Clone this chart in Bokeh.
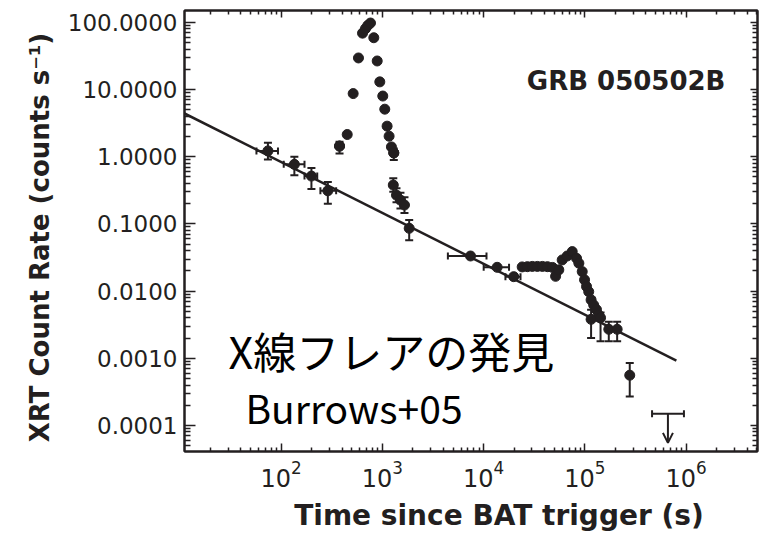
import numpy as np
from bokeh.plotting import figure
from bokeh.models import (LogAxis, FixedTicker, Label, Whisker, ColumnDataSource,
                          Range1d, Arrow, OpenHead, TeeHead, LogTickFormatter)
from bokeh.embed import file_html
from bokeh.resources import INLINE

INK = "#231f20"

# ---------------- data ----------------
# early decay (x and y errors)
early_t = [74, 135, 199, 289]
early_r = [1.22, 0.77, 0.515, 0.311]
early_t_lo = [57, 106, 170, 244]
early_t_hi = [93, 170, 227, 349]
early_r_lo = [0.91, 0.53, 0.33, 0.20]
early_r_hi = [1.61, 1.00, 0.68, 0.42]

# giant flare
flare_t = [377, 449, 514, 580, 636, 680, 718, 762, 822, 888, 942, 1008,
           1055, 1112, 1164, 1227, 1295]
flare_r = [1.44, 2.14, 8.7, 29.5, 69, 80.5, 90, 97.7, 59, 26.6, 13.0, 8.0,
           5.1, 2.85, 2.02, 1.40, 1.14]

# end of flare (y errors)
tail_t = [377, 1295, 1280, 1377, 1507, 1651, 1838]
tail_r = [1.44, 1.14, 0.379, 0.268, 0.226, 0.191, 0.086]
tail_r_lo = [1.12, 0.89, 0.30, 0.21, 0.17, 0.145, 0.057]
tail_r_hi = [1.67, 1.33, 0.48, 0.34, 0.29, 0.25, 0.114]

# later data with time bins
late_t = [7413, 13580, 19800]
late_r = [0.0333, 0.0226, 0.0164]
late_t_lo = [4430, 10000, 16400]
late_t_hi = [10660, 17800, 23100]

# second flare
flare2_t = [24000, 27000, 30200, 33900, 38000, 42600, 47800, 51300, 55200,
            59600, 66800, 74900, 82600, 87100, 94000, 99100, 103700, 109000,
            115000, 122000, 130000, 137000]
flare2_r = [0.0229, 0.0231, 0.0233, 0.0233, 0.0233, 0.0231, 0.0225, 0.0166,
            0.0207, 0.0291, 0.0333, 0.0387, 0.0308, 0.0260, 0.0195, 0.0147,
            0.0117, 0.0098, 0.0074, 0.0062, 0.0053, 0.0044]

# faint late points (y errors)
faint_t = [115000, 142600, 172000, 208000, 277000]
faint_r = [0.0038, 0.0040, 0.0027, 0.0027, 0.00056]
faint_r_lo = [0.0020, 0.0018, 0.0018, 0.0018, 0.00027]
faint_r_hi = [0.0053, 0.0048, 0.0035, 0.0035, 0.00085]

# upper limit
ul_t = [660000]
ul_r = [1.5e-4]
ul_t_lo = [460000]
ul_t_hi = [950000]
ul_arrow_to = [5.5e-5]

# underlying power-law decay
pl_t = [11.1, 8.0e5]
pl_r = [4.40, 9.2e-4]

# axes
x_ticks = [1e2, 1e3, 1e4, 1e5, 1e6]      # labelled 10^2 ... 10^6
y_ticks = [1e-4, 1e-3, 1e-2, 1e-1, 1e0, 1e1, 1e2]
y_tick_labels = ["0.0001", "0.0010", "0.0100", "0.1000", "1.0000", "10.0000", "100.0000"]
x_range = (11.1, 5.06e6)
y_range = (4.1e-5, 150)

# ---------------- figure ----------------
W, H = 762, 534
BL, BR, BT, BB = 184, 5, 10, 82
p = figure(width=W, height=H, x_axis_type="log", y_axis_type="log",
           x_range=Range1d(*x_range), y_range=Range1d(*y_range),
           output_backend="svg", toolbar_location=None,
           min_border_left=BL, min_border_right=BR, min_border_top=BT,
           min_border_bottom=BB)
p.grid.visible = False
p.outline_line_color = INK
p.outline_line_width = 2
p.background_fill_color = "white"
p.border_fill_color = "white"

x_minor = [k * 10.0 ** n for n in range(1, 7) for k in range(2, 10)]
y_minor = [k * 10.0 ** n for n in range(-5, 3) for k in range(2, 10)]

def style(ax, maj, mnr):
    ax.axis_line_color = INK
    ax.axis_line_width = 2
    ax.major_tick_line_color = INK
    ax.minor_tick_line_color = INK
    ax.major_tick_line_width = 1.5
    ax.minor_tick_line_width = 1.5
    ax.major_tick_in = maj
    ax.major_tick_out = 0
    ax.minor_tick_in = mnr
    ax.minor_tick_out = 0

LATIN = "DejaVu Sans"

xa = p.xaxis[0]
xa.ticker = FixedTicker(ticks=x_ticks, minor_ticks=x_minor)
xa.formatter = LogTickFormatter()
style(xa, 8, 4)
xa.major_label_text_font = LATIN
xa.major_label_text_font_size = "24px"
xa.major_label_text_color = INK
xa.major_label_standoff = 8
xa.axis_label = "\u2003\u2003Time since BAT trigger (s)"
xa.axis_label_text_font = LATIN
xa.axis_label_text_font_size = "28px"
xa.axis_label_text_font_style = "bold"
xa.axis_label_text_color = INK
xa.axis_label_standoff = 9

ya = p.yaxis[0]
ya.ticker = FixedTicker(ticks=y_ticks, minor_ticks=y_minor)
style(ya, 11, 6)
ya.major_label_overrides = dict(zip(y_ticks, y_tick_labels))
ya.major_label_text_font = LATIN
ya.major_label_text_font_size = "23px"
ya.major_label_text_color = INK
ya.major_label_standoff = 7
ya.axis_label = "XRT Count Rate (counts s\u207b\u00b9)\u2002"
ya.axis_label_text_font = LATIN
ya.axis_label_text_font_size = "26px"
ya.axis_label_text_font_style = "bold"
ya.axis_label_text_color = INK
ya.axis_label_standoff = 10

top = LogAxis(ticker=FixedTicker(ticks=x_ticks, minor_ticks=x_minor))
style(top, 7, 4)
top.major_label_text_font_size = "1px"
top.major_label_text_alpha = 0
top.major_label_standoff = 0
p.add_layout(top, "above")

right = LogAxis(ticker=FixedTicker(ticks=y_ticks, minor_ticks=y_minor))
style(right, 7, 5)
right.major_label_text_font_size = "1px"
right.major_label_text_alpha = 0
right.major_label_standoff = 0
p.add_layout(right, "right")

# ---------------- marks ----------------
p.line(pl_t, pl_r, line_color=INK, line_width=2.5)

def yerr(t, lo, hi):
    src = ColumnDataSource(dict(t=t, lo=lo, hi=hi))
    w = Whisker(source=src, base="t", lower="lo", upper="hi", dimension="height",
                line_color=INK, line_width=2,
                upper_head=TeeHead(size=8, line_color=INK, line_width=2),
                lower_head=TeeHead(size=8, line_color=INK, line_width=2))
    p.add_layout(w)

def xerr(r, lo, hi):
    src = ColumnDataSource(dict(r=r, lo=lo, hi=hi))
    w = Whisker(source=src, base="r", lower="lo", upper="hi", dimension="width",
                line_color=INK, line_width=2,
                upper_head=TeeHead(size=7, line_color=INK, line_width=2),
                lower_head=TeeHead(size=7, line_color=INK, line_width=2))
    p.add_layout(w)

yerr(early_t, early_r_lo, early_r_hi)
xerr(early_r, early_t_lo, early_t_hi)
yerr(tail_t, tail_r_lo, tail_r_hi)
xerr(late_r, late_t_lo, late_t_hi)
yerr(faint_t, faint_r_lo, faint_r_hi)
xerr(ul_r, ul_t_lo, ul_t_hi)

for tx, ry in [(early_t, early_r), (flare_t, flare_r), (tail_t, tail_r),
               (late_t, late_r), (flare2_t, flare2_r), (faint_t, faint_r)]:
    p.scatter(tx, ry, size=10, color=INK)

p.add_layout(Arrow(x_start=ul_t[0], y_start=ul_r[0], x_end=ul_t[0], y_end=ul_arrow_to[0],
                   line_color=INK, line_width=2,
                   end=OpenHead(size=10, line_color=INK, line_width=2)))

# ---------------- texts ----------------
p.add_layout(Label(x=2.44e6, y=13.4, text="GRB 050502B", text_align="right",
                   text_baseline="alphabetic", text_font=LATIN,
                   text_font_size="26px", text_font_style="bold", text_color=INK))
p.add_layout(Label(x=30.2, y=1.34e-3, text="X線フレアの発見", text_align="left",
                   text_baseline="alphabetic", text_font="Noto Sans CJK JP",
                   text_font_size="43px", text_color="black"))
p.add_layout(Label(x=44.4, y=1.9e-4, text="Burrows+05", text_align="left",
                   text_baseline="alphabetic", text_font="Noto Sans CJK JP",
                   text_font_size="39px", text_color="black"))

open("out.html", "w").write(file_html(p, INLINE))
